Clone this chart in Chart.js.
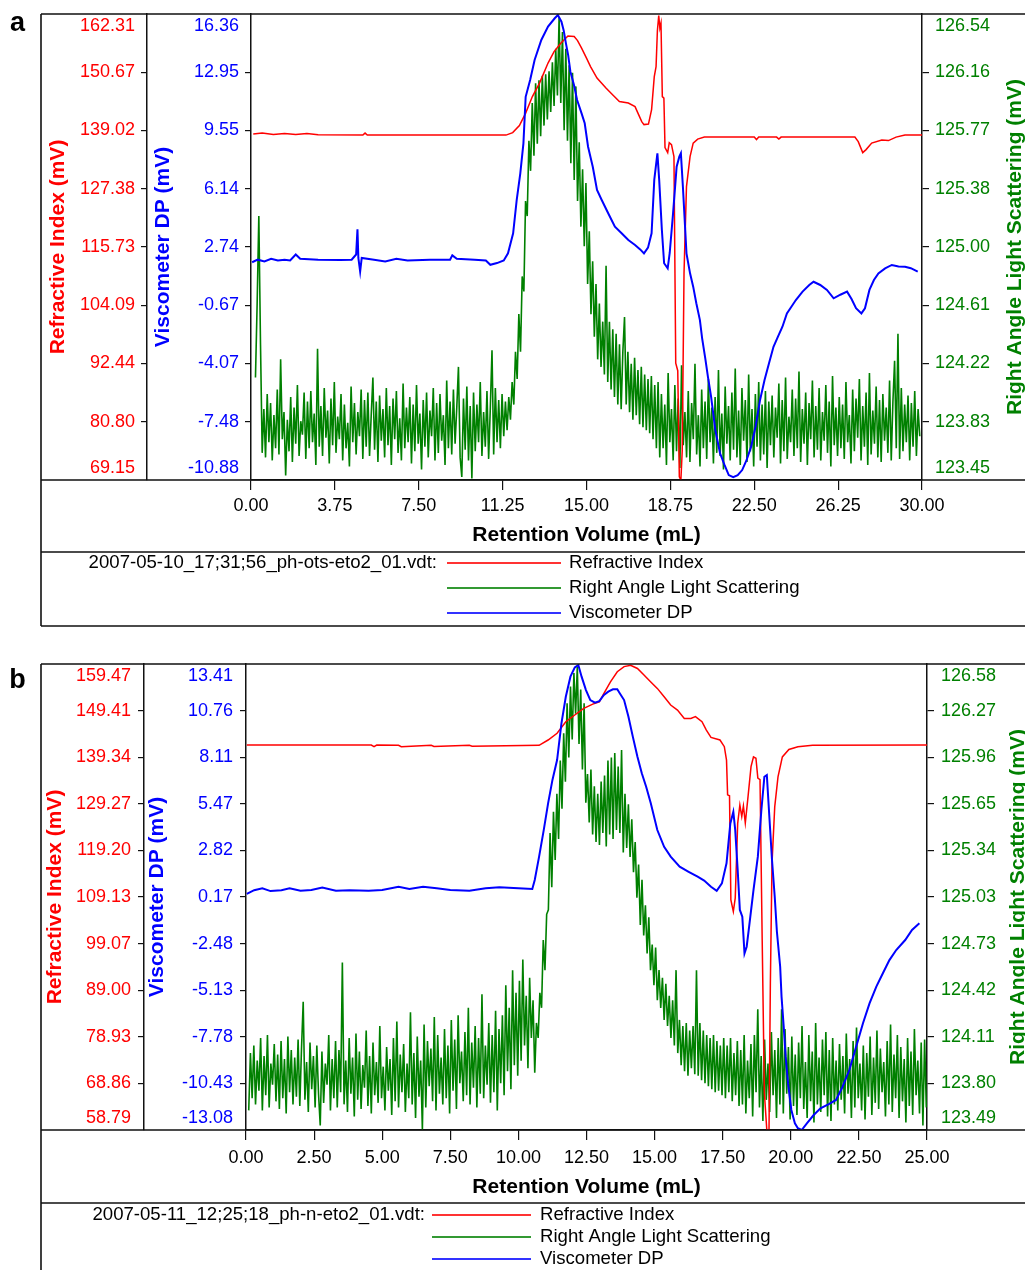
<!DOCTYPE html>
<html>
<head>
<meta charset="utf-8">
<title>SEC triple detector chromatograms</title>
<script src="https://cdn.jsdelivr.net/npm/chart.js@4.4.1/dist/chart.umd.min.js"></script>
<style>
  html, body { margin: 0; padding: 0; background: #fff; }
  #page { position: relative; width: 1025px; height: 1270px; overflow: hidden; background: #fff; }
  canvas { position: absolute; left: 0; display: block; }
  #chartA { top: 0; }
  #chartB { top: 640px; }
</style>
</head>
<body>
<div id="page">
  <canvas id="chartA" width="1025" height="640"></canvas>
  <canvas id="chartB" width="1025" height="630"></canvas>
</div>
<script>
// ---------------------------------------------------------------------------
// Data: run a (2007-05-10) and run b (2007-05-11)
// ---------------------------------------------------------------------------
const seriesNames = ['Refractive Index', 'Right Angle Light Scattering', 'Viscometer DP'];
const fileA = '2007-05-10_17;31;56_ph-ots-eto2_01.vdt:';
const fileB = '2007-05-11_12;25;18_ph-n-eto2_01.vdt:';
const xTitle = 'Retention Volume (mL)';

// Axis tick labels (bottom to top)
const riTicksA   = ['69.15','80.80','92.44','104.09','115.73','127.38','139.02','150.67','162.31'];
const dpTicksA   = ['-10.88','-7.48','-4.07','-0.67','2.74','6.14','9.55','12.95','16.36'];
const ralsTicksA = ['123.45','123.83','124.22','124.61','125.00','125.38','125.77','126.16','126.54'];
const riTicksB   = ['58.79','68.86','78.93','89.00','99.07','109.13','119.20','129.27','139.34','149.41','159.47'];
const dpTicksB   = ['-13.08','-10.43','-7.78','-5.13','-2.48','0.17','2.82','5.47','8.11','10.76','13.41'];
const ralsTicksB = ['123.49','123.80','124.11','124.42','124.73','125.03','125.34','125.65','125.96','126.27','126.58'];
const volMaxA = 30, volStepA = 3.75;
const volMaxB = 25, volStepB = 2.5;

// Run a - refractive index (mL, mV)
const riVolA = [0.1,0.5,1.0,1.5,2.0,2.5,3.0,5.0,5.1,5.2,11.4,11.7,12.0,12.28,12.58,12.9,13.28,13.55,13.86,14.17,
  14.45,14.6,14.78,15.0,15.18,15.47,15.87,16.2,16.47,16.87,17.17,17.35,17.47,17.57,17.77,17.91,18.03,18.11,18.17,18.23,
  18.28,18.33,18.39,18.46,18.51,18.63,18.7,18.8,18.91,18.99,19.08,19.15,19.22,19.28,19.36,19.47,19.63,19.77,19.97,20.27,
  22.5,22.6,22.7,23.5,23.6,23.7,27.0,27.15,27.35,27.5,27.75,28.2,28.5,28.84,29.24,30.0];
const riMvA = [138.3,138.5,138.2,138.4,138.2,138.4,138.15,138.1,138.5,138.1,138.1,138.6,140.0,142.5,145.8,148.5,152.5,154.8,156.5,157.9,
  157.8,157.0,155.5,153.5,151.8,149.5,147.5,146.0,144.8,144.5,143.8,142.0,140.8,140.2,140.3,143.2,149.8,151.8,159.0,162.0,
  159.5,160.5,145.8,145.5,135.6,134.6,136.6,136.2,133.8,92.5,91.0,69.8,69.15,75.0,110.5,127.8,133.8,136.5,137.3,137.7,
  137.7,137.2,137.7,137.7,137.3,137.7,137.7,136.8,134.6,135.2,136.5,137.1,137.0,137.7,138.1,138.1];

// Run a - viscometer differential pressure (mL, mV)
const dpVolA = [0.05,0.3,0.6,0.9,1.2,1.5,1.75,2.0,2.2,3.0,4.0,4.5,4.7,4.76,4.8,4.88,4.95,5.5,6.0,6.5,
  7.0,8.0,8.9,9.0,9.2,10.0,10.5,10.7,11.0,11.3,11.49,11.72,11.88,12.04,12.18,12.28,12.48,12.68,12.98,13.28,
  13.58,13.72,13.88,13.98,14.08,14.18,14.28,14.44,14.58,14.78,14.92,15.07,15.28,15.47,15.68,15.97,16.27,16.57,16.87,17.17,
  17.4,17.57,17.75,17.91,18.03,18.17,18.25,18.37,18.47,18.63,18.72,18.87,19.03,19.15,19.22,19.31,19.47,19.63,19.77,19.91,
  20.07,20.17,20.31,20.43,20.57,20.76,20.97,21.17,21.36,21.56,21.76,21.96,22.16,22.36,22.56,22.76,22.96,23.16,23.36,23.56,
  23.76,23.96,24.16,24.36,24.66,24.96,25.15,25.45,25.75,26.05,26.35,26.65,26.85,27.05,27.29,27.45,27.65,27.85,28.05,28.35,
  28.65,28.95,29.24,29.5,29.81];
const dpMvA = [1.85,2.0,1.9,2.05,1.95,2.0,1.95,2.3,2.05,2.0,1.98,2.0,2.3,3.77,2.1,1.3,2.1,2.0,1.9,2.05,
  1.95,2.0,2.0,2.25,2.05,2.0,1.95,1.7,1.8,1.95,2.37,3.54,5.49,7.05,8.8,11.52,12.5,13.67,14.84,15.62,
  16.11,16.3,15.91,15.4,14.64,13.96,12.99,12.21,11.33,10.55,9.97,8.6,7.43,6.07,5.49,4.71,3.93,3.54,3.15,2.86,
  2.6,2.37,2.7,3.54,6.66,8.22,6.66,3.73,1.79,1.49,2.39,4.71,7.43,8.02,8.22,6.26,2.37,1.2,0.42,-0.55,
  -1.53,-2.6,-3.77,-4.85,-6.01,-7.96,-9.32,-10.0,-10.59,-10.72,-10.6,-10.3,-9.71,-8.93,-7.76,-6.2,-5.04,-4.06,-3.09,-2.5,
  -1.92,-1.14,-0.75,-0.36,0.13,0.52,0.71,0.52,0.23,-0.26,-0.05,0.13,-0.3,-0.84,-1.14,-0.84,0.23,0.81,1.2,1.49,
  1.69,1.6,1.59,1.5,1.3];

// Run a - right angle light scattering, sampled every 0.075 mL from 0.20 mL
const ralsStartA = 0.2, ralsStepA = 0.075;
const ralsMvA = [
  124.13,124.62,125.20,124.35,123.63,123.92,123.60,124.02,123.70,123.96,
  123.58,123.88,123.66,124.05,123.62,124.25,123.72,123.90,123.48,123.85,
  123.64,124.00,123.57,123.93,123.69,124.08,123.61,123.84,123.75,124.03,
  123.59,123.97,123.66,124.04,123.70,123.89,123.55,124.32,123.67,123.94,
  123.61,124.06,123.73,123.91,123.56,123.99,123.68,124.10,123.63,123.87,
  123.72,124.02,123.58,123.95,123.66,123.83,123.54,124.07,123.70,123.96,
  123.62,123.90,123.74,124.05,123.59,123.98,123.67,124.03,123.61,123.88,
  124.13,123.65,123.97,123.57,124.01,123.71,123.92,123.60,124.06,123.68,
  123.94,123.55,123.99,123.72,124.04,123.63,123.86,123.58,124.09,123.66,
  123.93,123.70,124.00,123.56,123.95,123.64,124.08,123.69,123.89,123.52,
  123.98,123.67,124.03,123.60,123.91,123.74,124.06,123.58,123.96,123.63,
  124.02,123.71,123.88,123.55,124.11,123.66,123.97,123.62,124.05,123.69,
  123.93,124.20,123.60,123.47,123.99,123.65,124.07,123.58,123.94,123.46,
  124.03,123.64,123.95,123.70,124.10,123.61,123.90,123.67,124.04,123.59,
  123.93,124.31,123.62,124.06,123.70,123.98,123.66,124.02,123.74,123.97,
  123.78,124.00,123.85,124.10,123.95,124.30,124.12,124.55,124.30,124.80,
  124.70,125.30,125.20,125.70,125.50,125.95,125.60,126.08,125.68,126.10,
  125.73,126.13,125.80,126.14,125.84,126.16,125.89,126.22,125.93,126.31,
  126.00,126.52,125.95,126.42,125.77,126.31,125.70,126.20,125.55,126.15,
  125.44,126.06,125.30,125.69,125.13,125.51,125.00,125.42,124.75,125.10,
  124.55,124.90,124.40,124.75,124.25,124.62,124.20,124.50,124.15,124.87,
  124.10,124.50,124.05,124.45,124.00,124.42,123.95,124.35,123.92,124.30,
  124.53,123.95,124.30,123.90,124.22,123.85,124.26,123.88,124.18,123.82,
  124.20,123.80,124.15,123.78,124.12,123.76,124.14,123.72,124.08,123.66,
  124.10,123.60,124.02,123.66,123.95,123.55,124.16,123.70,123.92,123.58,
  124.08,123.64,123.99,123.53,124.21,123.68,123.90,123.60,124.04,123.57,
  123.96,123.72,124.22,123.62,123.88,123.54,124.05,123.66,123.97,123.59,
  124.12,123.70,123.93,123.56,124.00,123.63,124.18,123.61,123.89,123.52,
  124.07,123.69,123.94,123.58,124.03,123.65,124.19,123.60,123.91,123.55,
  124.06,123.71,123.98,123.57,124.15,123.64,123.92,123.54,124.02,123.67,
  124.10,123.58,123.95,123.62,124.04,123.53,123.97,123.68,124.01,123.60,
  123.93,123.73,124.09,123.56,123.98,123.64,124.13,123.59,123.87,123.70,
  124.05,123.61,123.99,123.66,124.17,123.57,123.92,123.69,124.03,123.55,
  123.96,123.72,124.11,123.60,123.94,123.65,124.06,123.58,123.90,123.71,
  124.08,123.63,123.97,123.54,124.14,123.68,123.93,123.61,124.00,123.66,
  123.95,123.59,124.10,123.70,123.88,123.56,124.05,123.64,123.99,123.73,
  124.12,123.58,123.94,123.67,124.03,123.55,124.16,123.62,123.91,123.69,
  124.07,123.60,123.98,123.57,124.02,123.71,123.93,123.63,124.11,123.58,
  123.97,124.24,123.66,124.42,123.59,124.06,123.64,123.95,123.70,124.01,
  123.58,123.96,123.67,124.04,123.61,123.92,123.74];

// Run b - refractive index (mL, mV)
const riVolB = [0.03,2.0,4.6,4.7,4.8,5.6,5.7,6.8,6.9,8.2,8.3,10.76,11.09,11.42,11.74,12.07,12.4,12.73,12.97,13.14,
  13.38,13.63,13.88,14.12,14.37,14.61,14.86,15.1,15.35,15.59,15.84,16.09,16.33,16.5,16.74,16.9,17.07,17.4,17.56,17.64,
  17.68,17.75,17.8,17.89,17.96,18.05,18.13,18.2,18.26,18.33,18.43,18.54,18.63,18.72,18.79,18.87,18.95,19.03,19.12,19.2,
  19.25,19.31,19.41,19.53,19.69,19.93,20.26,20.8,25.0];
const riMvB = [141.95,141.95,141.95,141.6,141.95,141.9,141.6,141.9,141.65,141.9,141.7,141.9,143.05,144.5,147.0,148.45,149.9,150.8,151.3,153.1,
  155.6,157.8,158.9,159.2,158.5,157.1,155.6,154.2,152.4,150.6,149.5,147.7,147.7,148.1,147.0,145.2,143.6,143.05,141.6,138.7,
  131.2,131.0,108.5,106.0,108.9,125.05,129.0,126.5,128.8,125.1,130.8,137.3,139.4,139.1,134.8,134.5,99.8,66.8,58.79,58.79,
  90.5,116.4,128.6,135.1,139.4,141.0,141.6,141.9,141.95];

// Run b - viscometer differential pressure (mL, mV)
const dpVolB = [0.03,0.3,0.6,0.9,1.3,1.6,2.0,2.4,2.8,3.3,3.8,4.5,5.0,5.6,6.0,6.5,7.0,7.5,8.2,8.8,
  9.3,10.0,10.51,10.6,10.76,10.93,11.09,11.25,11.42,11.58,11.74,11.91,12.07,12.2,12.32,12.48,12.64,12.81,12.97,13.14,
  13.3,13.47,13.63,13.72,13.88,14.04,14.2,14.37,14.53,14.69,14.86,15.1,15.35,15.59,15.92,16.25,16.58,16.82,17.07,17.28,
  17.47,17.64,17.78,17.89,17.96,18.05,18.13,18.22,18.3,18.38,18.47,18.63,18.79,18.92,19.03,19.12,19.22,19.31,19.41,19.49,
  19.61,19.66,19.74,19.81,19.9,20.02,20.15,20.26,20.4,20.59,20.84,21.09,21.41,21.66,21.9,22.15,22.4,22.65,22.89,23.14,
  23.38,23.62,23.87,24.2,24.45,24.72];
const dpMvB = [0.34,0.55,0.66,0.5,0.55,0.66,0.52,0.56,0.7,0.52,0.55,0.52,0.56,0.75,0.62,0.75,0.66,0.56,0.52,0.66,
  0.72,0.66,0.62,1.13,2.46,3.97,5.49,6.82,7.95,10.04,11.55,12.69,13.22,13.35,12.69,11.93,11.36,11.21,11.3,11.65,
  11.84,11.97,11.97,11.75,11.36,10.41,9.28,8.14,7.2,6.43,5.49,3.97,3.02,2.46,1.89,1.6,1.32,1.1,0.75,0.52,
  0.94,2.08,4.35,5.01,3.97,1.7,-0.57,-0.95,-3.04,-2.66,-1.52,0.56,2.46,5.11,7.0,7.1,4.54,2.27,0.18,-1.81,
  -3.8,-5.5,-7.21,-8.91,-10.43,-11.94,-12.7,-12.98,-13.08,-12.7,-12.23,-11.85,-11.6,-11.37,-10.62,-9.67,-8.34,-7.01,-5.88,-4.93,
  -4.17,-3.42,-2.85,-2.28,-1.71,-1.33];

// Run b - right angle light scattering, sampled every 0.0625 mL from 0.10 mL
const ralsStartB = 0.1, ralsStepB = 0.0625;
const ralsMvB = [
  123.62,124.00,123.70,124.05,123.66,123.95,123.75,124.10,123.62,123.98,
  123.72,124.12,123.64,123.93,123.79,124.06,123.68,123.99,123.63,124.08,
  123.70,123.96,123.60,124.11,123.74,124.02,123.66,123.97,123.71,124.09,
  123.65,124.03,124.34,123.69,123.94,123.61,124.07,123.76,123.98,123.64,
  124.05,123.73,123.52,124.01,123.67,123.93,123.79,124.12,123.62,123.96,
  123.70,124.08,123.64,124.02,123.74,124.60,123.66,123.95,123.61,124.10,
  123.73,123.97,123.58,124.13,123.69,124.01,123.63,123.92,123.77,124.15,
  123.65,123.98,123.60,124.07,123.72,123.94,123.67,124.18,123.70,123.91,
  123.62,124.04,123.75,123.96,123.59,124.10,123.68,124.21,123.64,123.99,
  123.74,124.06,123.61,123.93,123.70,124.27,123.66,124.00,123.57,124.11,
  123.71,123.95,123.49,124.19,123.64,124.08,123.78,124.03,123.68,124.24,
  123.62,124.12,123.73,123.97,123.66,124.16,123.70,124.05,123.60,124.22,
  123.75,124.09,123.63,124.25,123.80,124.01,123.68,124.14,123.72,124.30,
  123.66,124.07,123.77,124.18,123.64,124.10,123.73,124.39,123.70,124.05,
  123.79,124.20,123.67,124.12,123.74,124.28,123.62,124.16,123.80,124.25,
  123.72,124.45,123.88,124.30,123.76,124.55,123.92,124.40,123.85,124.48,
  123.95,124.62,124.05,124.38,123.90,124.50,124.10,124.35,123.87,124.20,
  124.10,124.40,124.30,124.75,124.55,124.92,124.95,125.46,125.10,125.60,
  125.28,125.72,125.42,125.94,125.62,126.12,125.80,126.32,125.96,126.43,
  126.08,126.52,126.25,126.56,126.05,126.41,125.88,126.32,125.66,125.85,
  125.53,125.88,125.45,125.77,125.40,125.72,125.38,125.80,125.46,125.84,
  125.37,125.94,125.45,125.96,125.42,125.99,125.48,125.90,125.46,126.01,
  125.33,125.72,125.36,125.65,125.30,125.55,125.20,125.40,125.03,125.25,
  124.85,125.15,124.78,124.98,124.66,124.90,124.55,124.72,124.45,124.70,
  124.35,124.55,124.30,124.50,124.22,124.46,124.18,124.38,124.10,124.35,
  124.05,124.55,124.00,124.22,123.92,124.18,123.88,124.20,123.85,124.15,
  123.90,124.18,123.86,124.55,123.85,124.20,123.82,124.15,123.80,124.12,
  123.78,124.10,123.76,124.12,123.74,124.08,123.75,124.05,123.72,124.10,
  123.70,124.05,123.74,124.10,123.68,124.00,123.72,124.08,123.65,124.02,
  123.66,124.12,123.60,123.95,123.70,124.06,123.58,124.12,123.74,124.29,
  123.64,123.98,123.55,124.09,123.69,123.93,123.61,124.14,123.72,124.02,
  123.57,124.10,123.66,124.29,123.60,124.16,123.73,124.04,123.56,124.11,
  123.65,123.99,123.59,124.07,123.70,124.18,123.63,123.94,123.57,124.12,
  123.68,124.01,123.54,124.20,123.66,123.97,123.61,124.09,123.72,124.14,
  123.58,124.02,123.55,124.10,123.66,123.95,123.62,124.06,123.69,123.98,
  123.60,124.13,123.73,123.96,123.57,124.08,123.64,124.17,123.70,123.93,
  123.62,124.05,123.56,124.00,123.71,124.11,123.59,123.97,123.67,124.15,
  123.63,124.03,123.74,123.94,123.58,124.08,123.66,124.19,123.61,123.99,
  123.70,124.12,123.57,124.04,123.68,123.96,123.54,124.10,123.65,124.01,
  123.59,124.16,123.72,123.95,123.60,124.07,123.52,124.09,123.64];

// ---------------------------------------------------------------------------
// Drawing
// ---------------------------------------------------------------------------
const FONT = '"Liberation Sans", Arial, Helvetica, sans-serif';
Chart.defaults.font.family = FONT;

const RED = '#ff0000', GREEN = '#008000', BLUE = '#0000ff', INK = '#111111';

const pairUp = (xs, ys) => xs.map((x, i) => ({ x, y: ys[i] }));
const sampled = (start, step, ys) => ys.map((y, i) => ({ x: +(start + i * step).toFixed(4), y }));

function yScale(labels, position, weight, width, tickLen) {
  const last = labels.length - 1;
  return {
    type: 'linear', position, weight,
    min: parseFloat(labels[0]), max: parseFloat(labels[last]),
    afterBuildTicks: s => {
      s.ticks = labels.map((_, i) => ({ value: s.min + (s.max - s.min) * i / last }));
    },
    afterFit: s => { s.width = width; },
    ticks: { display: false },
    grid: {
      drawOnChartArea: false, drawTicks: true, tickLength: tickLen, lineWidth: 1.2,
      color: c => (c.index === 0 || c.index === last) ? 'rgba(0,0,0,0)' : INK
    },
    border: { display: true, color: INK, width: 1.5 }
  };
}

// Frame, y tick labels, axis titles, legend block and panel letter
const decorations = {
  id: 'decorations',
  afterDraw(chart, args, p) {
    const ctx = chart.ctx;
    const { top, bottom } = chart.chartArea;
    const xs = chart.scales.x;
    ctx.save();

    // frame lines
    ctx.strokeStyle = INK;
    ctx.lineWidth = 1.6;
    ctx.beginPath();
    ctx.moveTo(p.frameLeft, top); ctx.lineTo(p.frameRight, top);
    ctx.moveTo(p.frameLeft, bottom); ctx.lineTo(p.frameRight, bottom);
    ctx.moveTo(p.frameLeft, xs.bottom); ctx.lineTo(p.frameRight, xs.bottom);
    ctx.moveTo(p.frameLeft, top); ctx.lineTo(p.frameLeft, p.frameBottom);
    if (p.legendBottom) { ctx.moveTo(p.frameLeft, p.legendBottom); ctx.lineTo(p.frameRight, p.legendBottom); }
    ctx.stroke();

    // y axes: tick labels and rotated titles
    for (const ax of p.yAxes) {
      const s = chart.scales[ax.id];
      const last = ax.labels.length - 1;
      ctx.fillStyle = ax.color;
      ctx.font = '18px ' + FONT;
      ctx.textBaseline = 'middle';
      ctx.textAlign = ax.side === 'left' ? 'right' : 'left';
      const lx = ax.side === 'left' ? s.right - p.labelGap : s.left + p.labelGap + 1;
      ax.labels.forEach((lab, i) => {
        let y = s.getPixelForValue(s.ticks[i].value);
        if (i === 0) y -= p.endShift;
        else if (i === last) y += p.endShift;
        ctx.fillText(lab, lx, y);
      });
      const tx = ax.side === 'left' ? s.left + ax.titleOffset : s.right - ax.titleOffset;
      ctx.save();
      ctx.translate(tx, (top + bottom) / 2);
      ctx.rotate(-Math.PI / 2);
      ctx.font = 'bold 21px ' + FONT;
      ctx.textAlign = 'center';
      ctx.fillText(ax.title, 0, 0);
      ctx.restore();
    }

    // legend block
    const lg = p.legend;
    ctx.font = '18.6px ' + FONT;
    ctx.textBaseline = 'middle';
    ctx.fillStyle = '#000';
    ctx.textAlign = 'right';
    ctx.fillText(lg.file, lg.nameRight, lg.rows[0]);
    chart.data.datasets.forEach((ds, i) => {
      const y = lg.rows[i];
      ctx.strokeStyle = ds.borderColor;
      ctx.globalAlpha = 0.8;
      ctx.lineWidth = 2.2;
      ctx.beginPath(); ctx.moveTo(lg.x1, y); ctx.lineTo(lg.x2, y); ctx.stroke();
      ctx.globalAlpha = 1;
      ctx.fillStyle = '#000';
      ctx.textAlign = 'left';
      ctx.fillText(ds.label, lg.textX, y);
    });

    // panel letter
    ctx.font = 'bold 27px ' + FONT;
    ctx.textAlign = 'center';
    ctx.textBaseline = 'alphabetic';
    ctx.fillStyle = '#000';
    ctx.fillText(p.letter, 17.5, p.letterY);
    ctx.restore();
  }
};

function makePanel(canvasId, cfg) {
  return new Chart(document.getElementById(canvasId), {
    type: 'line',
    data: {
      datasets: [
        { label: seriesNames[0], data: cfg.ri, yAxisID: 'ri', borderColor: RED, borderWidth: 1.5, order: 2 },
        { label: seriesNames[1], data: cfg.rals, yAxisID: 'rals', borderColor: GREEN, borderWidth: 1.6, order: 3 },
        { label: seriesNames[2], data: cfg.dp, yAxisID: 'dp', borderColor: BLUE, borderWidth: 2, order: 1 }
      ]
    },
    options: {
      responsive: false,
      animation: false,
      devicePixelRatio: 1,
      events: [],
      elements: { point: { radius: 0 }, line: { tension: 0, borderJoinStyle: 'miter' } },
      layout: { padding: cfg.padding },
      scales: {
        x: {
          type: 'linear', position: 'bottom', min: 0, max: cfg.xMax,
          afterFit: s => { s.height = cfg.xAxisHeight; },
          ticks: {
            stepSize: cfg.xStep, autoSkip: false, maxRotation: 0, minRotation: 0,
            padding: cfg.xTickPad, color: '#000', font: { size: 18 },
            callback: v => Number(v).toFixed(2)
          },
          grid: { drawOnChartArea: false, drawTicks: true, tickLength: 10, color: INK, lineWidth: 1.2 },
          border: { display: true, color: INK, width: 1.5 },
          title: {
            display: true, text: xTitle, color: '#000',
            font: { size: 21, weight: 'bold' }, padding: { top: 0, bottom: cfg.xTitlePad }
          }
        },
        ri: yScale(cfg.riTicks, 'left', 1, cfg.riWidth, 6),
        dp: yScale(cfg.dpTicks, 'left', 0, cfg.dpWidth, 6),
        rals: yScale(cfg.ralsTicks, 'right', 0, cfg.ralsWidth, 7)
      },
      plugins: {
        legend: { display: false },
        tooltip: { enabled: false },
        decorations: cfg.deco
      }
    },
    plugins: [decorations]
  });
}

makePanel('chartA', {
  ri: pairUp(riVolA, riMvA),
  dp: pairUp(dpVolA, dpMvA),
  rals: sampled(ralsStartA, ralsStepA, ralsMvA),
  riTicks: riTicksA, dpTicks: dpTicksA, ralsTicks: ralsTicksA,
  xMax: volMaxA, xStep: volStepA,
  padding: { left: 41, right: 0, top: 14, bottom: 88 },
  riWidth: 106, dpWidth: 104, ralsWidth: 103,
  xAxisHeight: 72, xTickPad: 5, xTitlePad: 4,
  deco: {
    letter: 'a', letterY: 31,
    frameLeft: 41, frameRight: 1025, frameBottom: 626, legendBottom: 626,
    labelGap: 12, endShift: 12,
    yAxes: [
      { id: 'ri', labels: riTicksA, color: RED, side: 'left', title: 'Refractive Index (mV)', titleOffset: 17 },
      { id: 'dp', labels: dpTicksA, color: BLUE, side: 'left', title: 'Viscometer DP (mV)', titleOffset: 16 },
      { id: 'rals', labels: ralsTicksA, color: GREEN, side: 'right', title: 'Right Angle Light Scattering (mV)', titleOffset: 10 }
    ],
    legend: { file: fileA, nameRight: 437, x1: 447, x2: 561, textX: 569, rows: [563, 588, 613] }
  }
});

makePanel('chartB', {
  ri: pairUp(riVolB, riMvB),
  dp: pairUp(dpVolB, dpMvB),
  rals: sampled(ralsStartB, ralsStepB, ralsMvB),
  riTicks: riTicksB, dpTicks: dpTicksB, ralsTicks: ralsTicksB,
  xMax: volMaxB, xStep: volStepB,
  padding: { left: 41, right: 0, top: 24, bottom: 67 },
  riWidth: 103, dpWidth: 102, ralsWidth: 98,
  xAxisHeight: 73, xTickPad: 7, xTitlePad: 3,
  deco: {
    letter: 'b', letterY: 48,
    frameLeft: 41, frameRight: 1025, frameBottom: 630, legendBottom: null,
    labelGap: 13, endShift: 12,
    yAxes: [
      { id: 'ri', labels: riTicksB, color: RED, side: 'left', title: 'Refractive Index (mV)', titleOffset: 14 },
      { id: 'dp', labels: dpTicksB, color: BLUE, side: 'left', title: 'Viscometer DP (mV)', titleOffset: 13 },
      { id: 'rals', labels: ralsTicksB, color: GREEN, side: 'right', title: 'Right Angle Light Scattering (mV)', titleOffset: 7 }
    ],
    legend: { file: fileB, nameRight: 425, x1: 432, x2: 531, textX: 540, rows: [575, 597, 619] }
  }
});
</script>
</body>
</html>
